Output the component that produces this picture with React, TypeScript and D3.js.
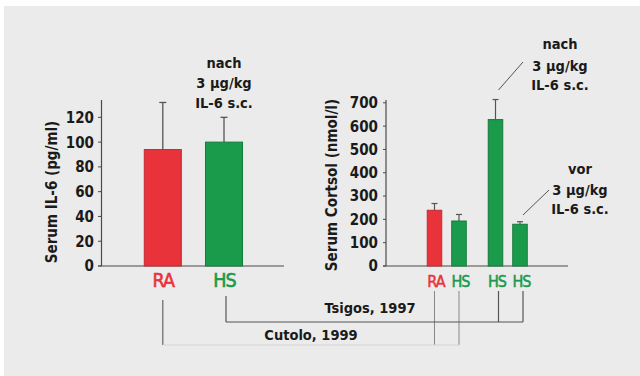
import React from "react";
import * as d3 from "d3";

// IL-6 (pg/ml)
const il6Groups = ["RA", "HS"];
const il6Means = [94, 100];
const il6Err = [38, 20];
const il6Ticks = [0, 20, 40, 60, 80, 100, 120];

// Cortisol (nmol/l)
const cortLabels = ["RA", "HS", "HS", "HS"];
const cortStudy = ["Cutolo", "Cutolo", "Tsigos", "Tsigos"];
const cortMeans = [239, 193, 628, 179];
const cortErr = [29, 28, 86, 11];
const cortTicks = [0, 100, 200, 300, 400, 500, 600, 700];

const studies = ["Cutolo", "Tsigos"];
const noteLines = ["3 µg/kg", "IL-6 s.c."];

const RED = "#e8333a";
const GREEN = "#1a9a4b";
const colorOf = (l: string) => (l === "RA" ? RED : GREEN);
const strokeOf = (l: string) => (l === "RA" ? "#c42a30" : "#147c3c");
const FONT = "'DejaVu Sans Condensed', 'DejaVu Sans', sans-serif";
const AXIS = "#4a4a4a";

const App = () => {
  // left panel
  const y1 = d3.scaleLinear().domain([0, 134]).range([266, 100]);
  const x1 = d3.scaleBand().domain(il6Groups).range([119.8, 267]).paddingInner(0.395).paddingOuter(0.4);
  const cx1 = (g: string) => (x1(g) as number) + x1.bandwidth() / 2;

  // right panel
  const y2 = d3.scaleLinear().domain([0, 712]).range([266, 100]);
  const outer = d3.scaleBand().domain(studies).range([416.25, 538.25]);
  const inner = d3.scaleBand().domain(["0", "1"]).range([6, 55]).paddingInner(0.408).paddingOuter(0.204);
  const slot = cortStudy.map((s, i) => String(cortStudy.slice(0, i).filter((t) => t === s).length));
  const bx2 = (i: number) => (outer(cortStudy[i]) as number) + (inner(slot[i]) as number);
  const cx2 = (i: number) => bx2(i) + inner.bandwidth() / 2;

  const leftRA = cx1("RA");
  const leftHS = cx1("HS");

  return (
    <svg width={640} height={376} style={{ position: "absolute", left: 0, top: 0 }} fontFamily={FONT}>
      <rect x={4} y={6} width={636} height={370} fill="#ebebeb" />

      {/* left chart */}
      <g>
        <line x1={101.5} x2={101.5} y1={100} y2={266} stroke={AXIS} strokeWidth={1.2} />
        <line x1={98} x2={284} y1={266} y2={266} stroke={AXIS} strokeWidth={1.2} />
        {il6Ticks.map((t) => (
          <g key={t}>
            <line x1={98} x2={101.5} y1={y1(t)} y2={y1(t)} stroke={AXIS} />
            <text x={94} y={y1(t)} dy="0.36em" textAnchor="end" fontSize={15} fill="#1a1a1a" fontWeight={600}>
              {t}
            </text>
          </g>
        ))}
        <text transform={`translate(57,${192}) rotate(-90)`} textAnchor="middle" fontSize={15} fontWeight={600} fill="#1a1a1a">
          Serum IL-6 (pg/ml)
        </text>
        {il6Groups.map((g, i) => (
          <g key={g}>
            <line x1={cx1(g)} x2={cx1(g)} y1={y1(il6Means[i])} y2={y1(il6Means[i] + il6Err[i])} stroke="#555" strokeWidth={1.3} />
            <line x1={cx1(g) - 3.5} x2={cx1(g) + 3.5} y1={y1(il6Means[i] + il6Err[i])} y2={y1(il6Means[i] + il6Err[i])} stroke="#555" strokeWidth={1.3} />
            <rect x={x1(g)} y={y1(il6Means[i])} width={x1.bandwidth()} height={y1(0) - y1(il6Means[i])} fill={colorOf(g)} stroke={strokeOf(g)} strokeWidth={1} />
            <text x={cx1(g) + 0.5} y={286.7} textAnchor="middle" fontSize={19.5} letterSpacing={-0.8} fill={colorOf(g)} stroke={colorOf(g)} strokeWidth={0.6}>
              {g}
            </text>
          </g>
        ))}
        <g fontSize={14.5} fontWeight={600} fill="#1a1a1a" textAnchor="middle">
          <text x={224} y={68}>nach</text>
          {noteLines.map((l, k) => (
            <text key={l} x={224} y={88 + k * 20}>{l}</text>
          ))}
        </g>
      </g>

      {/* right chart */}
      <g>
        <line x1={386} x2={386} y1={100} y2={266} stroke={AXIS} strokeWidth={1.2} />
        <line x1={383} x2={568} y1={266} y2={266} stroke={AXIS} strokeWidth={1.2} />
        {cortTicks.map((t) => (
          <g key={t}>
            <line x1={383} x2={386} y1={y2(t)} y2={y2(t)} stroke={AXIS} />
            <text x={378} y={y2(t)} dy="0.36em" textAnchor="end" fontSize={15} fill="#1a1a1a" fontWeight={600}>
              {t}
            </text>
          </g>
        ))}
        <text transform={`translate(337,185) rotate(-90)`} textAnchor="middle" fontSize={15} fontWeight={600} fill="#1a1a1a">
          Serum Cortsol (nmol/l)
        </text>
        {cortMeans.map((m, i) => (
          <g key={i}>
            <line x1={cx2(i)} x2={cx2(i)} y1={y2(m)} y2={y2(m + cortErr[i])} stroke="#555" strokeWidth={1.2} />
            <line x1={cx2(i) - 3} x2={cx2(i) + 3} y1={y2(m + cortErr[i])} y2={y2(m + cortErr[i])} stroke="#555" strokeWidth={1.2} />
            <rect x={bx2(i)} y={y2(m)} width={inner.bandwidth()} height={y2(0) - y2(m)} fill={colorOf(cortLabels[i])} stroke={strokeOf(cortLabels[i])} strokeWidth={1} />
            <text x={cx2(i) + 1.5} y={286.5} textAnchor="middle" fontSize={16} fill={colorOf(cortLabels[i])} stroke={colorOf(cortLabels[i])} strokeWidth={0.5} letterSpacing={-0.9}>
              {cortLabels[i]}
            </text>
          </g>
        ))}
        <g fontSize={14.5} fontWeight={600} fill="#1a1a1a" textAnchor="middle">
          <text x={560} y={49}>nach</text>
          {noteLines.map((l, k) => (
            <text key={l} x={560} y={71 + k * 19}>{l}</text>
          ))}
          <text x={580} y={174}>vor</text>
          {noteLines.map((l, k) => (
            <text key={l} x={580} y={195 + k * 19}>{l}</text>
          ))}
        </g>
        <line x1={cx2(2) + 3} y1={90} x2={523} y2={62} stroke="#555" strokeWidth={1} />
        <line x1={cx2(3) + 3} y1={215} x2={549} y2={190} stroke="#555" strokeWidth={1} />
      </g>

      {/* study connectors */}
      <g fill="none">
        <line x1={leftRA} x2={leftRA} y1={300} y2={345} stroke="#666" strokeWidth={1.2} />
        <line x1={leftHS + 2} x2={leftHS + 2} y1={296} y2={322} stroke="#555" strokeWidth={1.2} />
        {[0, 1].map((i) => (
          <line key={i} x1={cx2(i)} x2={cx2(i)} y1={291} y2={345} stroke="#888" strokeWidth={1} />
        ))}
        {[2, 3].map((i) => (
          <line key={i} x1={cx2(i) + 3} x2={cx2(i) + 3} y1={291} y2={322} stroke="#555" strokeWidth={1.2} />
        ))}
        <line x1={leftHS + 2} x2={cx2(3) + 3} y1={322} y2={322} stroke="#555" strokeWidth={1.2} />
        <line x1={leftRA} x2={cx2(1)} y1={345} y2={345} stroke="#d4d4d4" strokeWidth={1} />
      </g>
      <g fontSize={14.5} fontWeight={600} fill="#1a1a1a" textAnchor="middle">
        <text x={370} y={313}>Tsigos, 1997</text>
        <text x={311} y={340}>Cutolo, 1999</text>
      </g>
    </svg>
  );
};

export default App;
